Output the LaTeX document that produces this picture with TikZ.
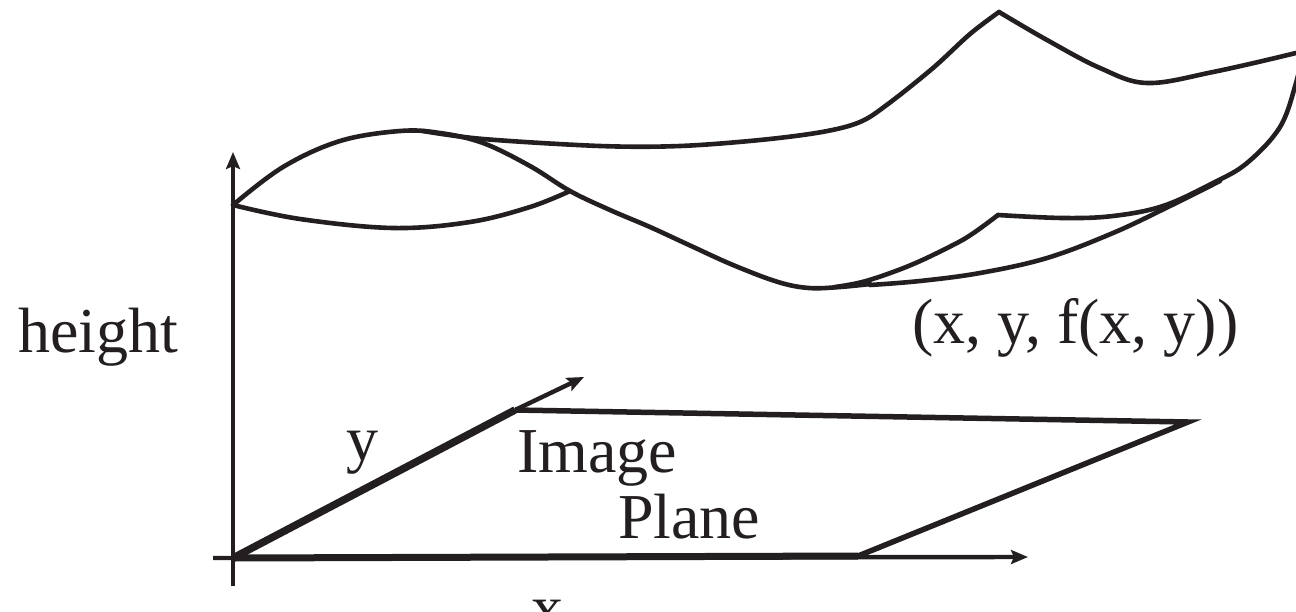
\documentclass[tikz,border=0pt]{standalone}
\usepackage{fontspec}
\setmainfont{Liberation Serif}
\usetikzlibrary{arrows.meta}
\definecolor{ink}{RGB}{35,31,32}
\begin{document}
\begin{tikzpicture}[x=1pt,y=-1pt,
  curve/.style={draw=ink,line width=4.6pt,line join=round,line cap=round},
  axis/.style={draw=ink,line width=4.4pt,-{Stealth[length=17pt,width=14pt,inset=3pt]}},
  edge/.style={draw=ink,line width=5.5pt,line join=miter},
  lbl/.style={text=ink,inner sep=0pt,font=\fontsize{64}{70}\selectfont}]
\useasboundingbox (0,0) rectangle (1296,611);
\clip (0,0) rectangle (1296,611);

% named points
\coordinate (O) at (233,558);
\coordinate (Ztop) at (233,152);
\coordinate (Zbot) at (233,586);
\coordinate (Xl) at (213,558);
\coordinate (Xtip) at (1028,557);
\coordinate (Pa) at (515,410);
\coordinate (Pb) at (1188,422);
\coordinate (Pc) at (858,556);
\coordinate (Ytip) at (584,377);

% axes
\draw[axis] (Zbot) -- (Ztop);
\draw[axis] (Xl) -- (Xtip);
\draw[axis] (Pa) -- (Ytip);
\draw[draw=ink,line width=7.5pt] (O) -- (Pa);
\draw[edge] (Pa) -- (Pb) -- (Pc);
\draw[draw=ink,line width=7pt] (Pc) -- (O);

% surface
\draw[curve] plot[smooth,tension=0.6] coordinates {(233,205) (283,167) (340,141) (400,131) (440,133) (483,143) (530,166) (570,191) (610,210) (650,227) (689,245) (733,265) (778,282) (809,288) (840,287) (870,284)};
\draw[curve] plot[smooth,tension=0.6] coordinates {(233,205) (300,219) (393,228) (470,222) (530,207) (570,191)};
\draw[curve] plot[smooth,tension=0.55] coordinates {(423,131) (483,139) (600,146) (680,146) (760,140) (822,132) (860,122) (888,104) (933,68) (970,34) (999,12)};
\draw[curve] plot[smooth,tension=0.6] coordinates {(999,12) (1047,40) (1100,68) (1147,83) (1213,72) (1296,53) (1320,46)};
\draw[curve] plot[smooth,tension=0.6] coordinates {(1302,55) (1296,83) (1280,127) (1247,163) (1213,183) (1163,206) (1113,216) (1063,218) (998,215)};
\draw[curve] plot[smooth,tension=0.6] coordinates {(998,215) (975,232) (955,244) (911,265) (866,281) (835,287)};
\draw[curve] plot[smooth,tension=0.6] coordinates {(1220,181) (1168,207) (1113,233) (1047,258) (980,273) (920,281) (870,285)};

% labels
\node[lbl,anchor=base west] (hl) at (18,352) {height};
\node[lbl,anchor=base] (yl) at (362,460) {y};
\node[lbl,anchor=base west] (il) at (517,472) {Image};
\node[lbl,anchor=base west] (pl) at (618,538) {Plane};
\node[lbl,anchor=base west] (fl) at (912,343) {(x, y, f(x, y))};
\node[lbl,anchor=base] (xl) at (547,629) {x};
\end{tikzpicture}
\end{document}
